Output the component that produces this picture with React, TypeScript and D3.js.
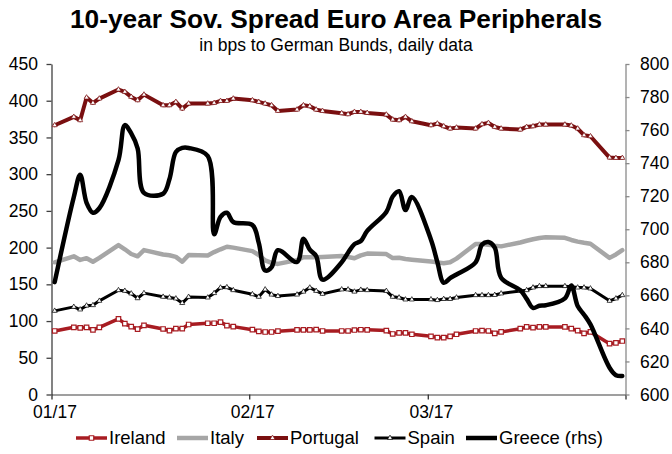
import React, { useEffect, useRef } from "react";
import * as d3 from "d3";

const WIDTH = 672;
const HEIGHT = 454;
const FONT = "'Liberation Sans', Arial, Helvetica, sans-serif";

const TITLE = "10-year Sov. Spread Euro Area Peripherals";
const SUBTITLE = "in bps to German Bunds, daily data";

// Observation days as they sit on the date axis: Jan 1, then Wednesday–Sunday blocks up to Mar 31
const dates: Date[] = d3.timeDay
  .range(new Date(2017, 0, 1), new Date(2017, 3, 1))
  .filter((d) => d.getDay() !== 1 && d.getDay() !== 2);

// Spreads in bps (left axis)
const ireland = [
  86.5,
  91.5, 90.8, 91.5, 88, 91.5,
  103, 96.5, 92.4, 89, 94.2,
  89.2, 87, 89.6, 89.6, 95.3,
  97, 97, 98.5, 93.8, 92.4,
  88.3, 86, 85.1, 85.1, 86.2,
  87.9, 87.9, 87.9, 88.3, 86.5,
  86.5, 86.5, 87.8, 88.2, 88,
  87, 82.4, 83.8, 83.8, 82,
  79.2, 77.5, 77.5, 79.2, 82,
  86.5, 87, 86.5, 83.3, 85.2,
  89.6, 92, 91, 92, 92,
  92, 89.6, 87, 83.3, 85.2,
  69.2, 70.2, 72.8,
];

const italy = [
  180,
  188.2, 183.2, 185.6, 180.7, 186,
  203.4, 197.7, 191.3, 188.2, 196.6,
  190.7, 189.6, 187.4, 180.8, 190,
  189.4, 193.9, 197.7, 201.2, 200,
  195.2, 190, 182.6, 179.3, 177.8,
  183, 186.8, 186.8, 186.8, 187.3,
  188.6, 187.3, 185.6, 189.5, 191.9,
  191.2, 185.7, 186.2, 184.5, 183.6,
  181.1, 179.9, 178.7, 180, 185,
  205, 205, 203.9, 202.7, 201.7,
  207, 209.3, 211.3, 213, 214,
  213.3, 210.4, 208.2, 206.6, 205.3,
  186, 190.7, 196.5,
];

const portugal = [
  366.6,
  378, 373.4, 404.3, 397, 402.9,
  415.2, 412, 405.2, 400.6, 408.3,
  393.8, 393.8, 398.4, 389.3, 396.1,
  396.1, 397, 399.7, 399.7, 402.9,
  400.6, 398.4, 396.1, 393.8, 386.1,
  387.9, 393.8, 392.5, 387.9, 386.1,
  383, 381.6, 384.8, 384.8, 383.4,
  381.1, 374.3, 373.4, 378, 372,
  366.6, 368.9, 365.2, 362.1, 363.4,
  362.1, 368, 369.8, 364.3, 362.1,
  360.7, 364.3, 365.2, 367.5, 367.5,
  367.5, 366.2, 362.1, 353, 351.6,
  322.6, 322.1, 322.1,
];

const spain = [
  113.9,
  119.3, 115.7, 121, 121.6, 127.5,
  142, 141.1, 137.5, 131, 138,
  133, 132, 130.7, 124.5, 132.9,
  132, 138, 145.5, 146, 142,
  136.5, 133, 143, 136, 134,
  136, 140, 145.5, 141, 137,
  143, 143, 140, 142.5, 142,
  141, 133, 132, 129.3, 129.3,
  129.5, 128.5, 130, 130, 132,
  135.2, 135.2, 135.2, 135.5, 137.5,
  141, 142, 145.6, 147.5, 147.5,
  147.5, 146.6, 145.6, 145.6, 144.3,
  127.5, 130.7, 135.2,
];

// Greece on the right-hand axis
const greece = [
  668,
  719.5, 733, 716, 710, 712.7,
  741.8, 763, 758, 749, 722,
  721.5, 730.4, 746.7, 749.2, 749.2,
  744.3, 697, 707.5, 710, 704.4,
  702.6, 691.7, 675, 677, 687.3,
  680.2, 694.3, 687.6, 683.8, 669.5,
  680, 685.8, 691, 692.9, 699,
  710.5, 719.8, 723, 711.6, 719.5,
  693.7, 680.1, 667.6, 670.4, 672.6,
  680, 690.7, 692.3, 688.9, 670.7,
  663.1, 657.9, 652.4, 653.7, 654,
  658.2, 666, 653.5, 648.3, 642.4,
  616.2, 611.7, 611.2,
];

const monthTicks = [
  new Date(2017, 0, 1),
  new Date(2017, 1, 1),
  new Date(2017, 2, 1),
  new Date(2017, 3, 1),
];
const monthLabels = ["01/17", "02/17", "03/17", ""];
const leftTicks = [0, 50, 100, 150, 200, 250, 300, 350, 400, 450];
const rightTicks = [600, 620, 640, 660, 680, 700, 720, 740, 760, 780, 800];

type Marker = "square" | "triangle" | null;
interface Series {
  name: string;
  values: number[];
  color: string;
  width: number;
  marker: Marker;
  rhs: boolean;
}

const series: Series[] = [
  { name: "Ireland", values: ireland, color: "#A81C22", width: 3.5, marker: "square", rhs: false },
  { name: "Italy", values: italy, color: "#A6A6A6", width: 4.5, marker: null, rhs: false },
  { name: "Portugal", values: portugal, color: "#7A0F10", width: 4, marker: "triangle", rhs: false },
  { name: "Spain", values: spain, color: "#000000", width: 3, marker: "triangle", rhs: false },
  { name: "Greece (rhs)", values: greece, color: "#000000", width: 4.5, marker: null, rhs: true },
];

// Plot frame
const X0 = 51.5;
const X1 = 625.5;
const Y_TOP = 64;
const Y_BOTTOM = 394.5;

const x = d3.scaleTime().domain([monthTicks[0], monthTicks[3]]).range([X0, X1]);
const yL = d3.scaleLinear().domain([0, 450]).range([Y_BOTTOM, Y_TOP]);
const yR = d3.scaleLinear().domain([600, 800]).range([Y_BOTTOM, Y_TOP]);

// each observation is centred within its day
const xPos = (d: Date) => x(d3.timeHour.offset(d, 12));

const squarePath = d3.symbol(d3.symbolSquare, 20)()!;
const trianglePath = d3.symbol(d3.symbolTriangle, 11)()!;

function MarkerShape({ kind, cx, cy, color }: { kind: Marker; cx: number; cy: number; color: string }) {
  if (kind === "square") {
    return <path d={squarePath} transform={`translate(${cx},${cy})`} fill="#fff" stroke={color} strokeWidth={1.2} />;
  }
  if (kind === "triangle") {
    return <path d={trianglePath} transform={`translate(${cx},${cy})`} fill="#fff" stroke={color} strokeWidth={0.7} />;
  }
  return null;
}

const legendX = [76, 177, 257, 374.5, 466];

export default function App() {
  const leftRef = useRef<SVGGElement>(null);
  const rightRef = useRef<SVGGElement>(null);
  const bottomRef = useRef<SVGGElement>(null);

  useEffect(() => {
    const style = (g: d3.Selection<SVGGElement, unknown, null, undefined>, line: string) => {
      g.attr("font-family", FONT).attr("font-size", 17.5);
      g.selectAll("text").attr("fill", "#000");
      g.select(".domain").attr("stroke", line).attr("stroke-width", 1.3);
      g.selectAll(".tick line").attr("stroke", line).attr("stroke-width", 1.3);
    };

    const left = d3.select(leftRef.current!);
    left.call(d3.axisLeft(yL).tickValues(leftTicks).tickSize(5).tickSizeOuter(0).tickPadding(8.5));
    style(left, "#404040");

    const right = d3.select(rightRef.current!);
    right.call(
      d3.axisRight(yR).tickValues(rightTicks).tickSize(4).tickSizeOuter(0).tickPadding(10.5)
    );
    style(right, "#8a8a8a");

    const bottom = d3.select(bottomRef.current!);
    bottom.call(
      d3
        .axisBottom(x)
        .tickValues(monthTicks)
        .tickFormat((_, i) => monthLabels[i])
        .tickSize(5)
        .tickSizeOuter(0)
        .tickPadding(6)
    );
    style(bottom, "#7f7f7f");
    bottom.selectAll(".tick line").attr("stroke", "#303030");
    bottom.selectAll(".tick text").attr("dx", 3);
  }, []);

  const lineFor = (s: Series) => {
    const y = s.rhs ? yR : yL;
    const gen = d3
      .line<number>()
      .x((_, i) => xPos(dates[i]))
      .y((v) => y(v));
    if (s.rhs) gen.curve(d3.curveCatmullRom.alpha(0.5));
    return gen(s.values) ?? "";
  };

  return (
    <svg
      width={WIDTH}
      height={HEIGHT}
      style={{ position: "absolute", left: 0, top: 0, background: "#fff" }}
      fontFamily={FONT}
    >
      <rect width={WIDTH} height={HEIGHT} fill="#fff" />
      <text x={336} y={28} textAnchor="middle" fontSize={26.3} fontWeight="bold" fill="#000">
        {TITLE}
      </text>
      <text x={336} y={51} textAnchor="middle" fontSize={17.5} fill="#000">
        {SUBTITLE}
      </text>

      <g ref={bottomRef} transform={`translate(0,${Y_BOTTOM})`} />
      <g ref={leftRef} transform={`translate(${X0},0)`} />
      <g ref={rightRef} transform={`translate(${X1},0)`} />

      {series.map((s) => (
        <g key={s.name}>
          <path
            d={lineFor(s)}
            fill="none"
            stroke={s.color}
            strokeWidth={s.width}
            strokeLinejoin="round"
            strokeLinecap="round"
          />
          {s.marker &&
            s.values.map((v, i) => (
              <MarkerShape
                key={i}
                kind={s.marker}
                cx={xPos(dates[i])}
                cy={(s.rhs ? yR : yL)(v)}
                color={s.color}
              />
            ))}
        </g>
      ))}

      <g fontSize={18.5}>
        {series.map((s, i) => {
          const lx = legendX[i];
          const ly = 438;
          return (
            <g key={s.name}>
              <line x1={lx} x2={lx + 31} y1={ly} y2={ly} stroke={s.color} strokeWidth={s.width} />
              {s.marker && <MarkerShape kind={s.marker} cx={lx + 15.5} cy={ly} color={s.color} />}
              <text x={lx + 33} y={ly} dy="0.35em" fill="#000">
                {s.name}
              </text>
            </g>
          );
        })}
      </g>
    </svg>
  );
}
